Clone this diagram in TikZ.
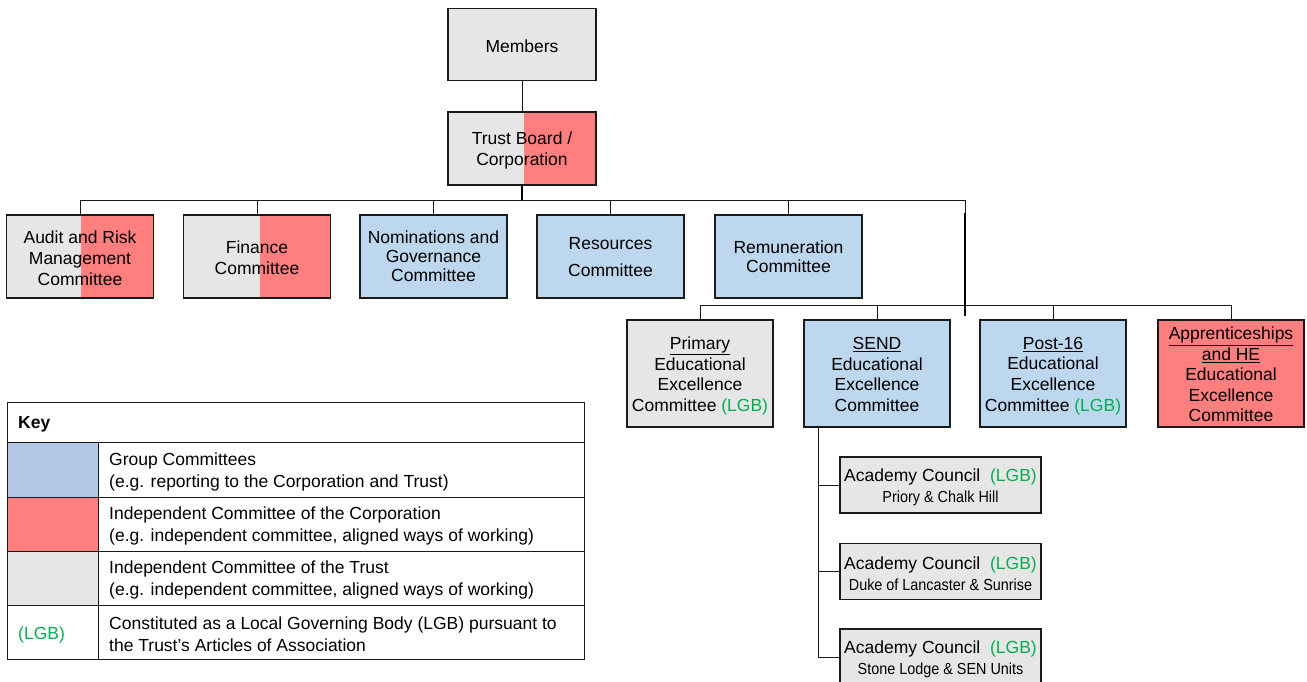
\documentclass[tikz,border=0pt]{standalone}
\usepackage{fontspec}
\setmainfont{Liberation Sans}
\newfontfamily\narrowfont[FakeStretch=0.9]{Liberation Sans}
\definecolor{boxgray}{HTML}{E6E6E6}
\definecolor{boxred}{HTML}{FF7F7F}
\definecolor{boxblue}{HTML}{BDD7EE}
\definecolor{keyblue}{HTML}{B4C7E7}
\definecolor{lgb}{HTML}{00B050}
\definecolor{edge}{HTML}{1A1A1A}
\newcommand{\lgbtag}{\textcolor{lgb}{(LGB)}}
\newcommand{\smalltxt}{\narrowfont\fontsize{16}{19}\selectfont}
\begin{document}
\begin{tikzpicture}[x=1pt,y=-1pt,
  base/.style={draw=edge,line width=1.2pt,inner sep=0pt},
  graybox/.style={base,fill=boxgray},
  bluebox/.style={base,fill=boxblue},
  redbox/.style={base,fill=boxred},
  halfbox/.style={base,fill=boxgray,path picture={
     \fill[boxred] ([xshift=#1]path picture bounding box.north) rectangle (path picture bounding box.south east);}},
  halfbox/.default=0pt,
  topbox/.style={minimum width=147pt,minimum height=83pt},
  rowbox/.style={minimum width=146pt,minimum height=107pt},
  acbox/.style={graybox,minimum width=201pt,minimum height=56pt},
  lbl/.style={inner sep=0pt,align=center,font=\fontsize{17.5}{21}\selectfont},
  conn/.style={draw=edge,line width=1pt},
  thickconn/.style={draw=black,line width=2.8pt},
  keyline/.style={draw=edge,line width=0.9pt},
  keytext/.style={inner sep=0pt,anchor=west,align=left,font=\fontsize{17.5}{22}\selectfont}
]
\useasboundingbox (0,0) rectangle (1307,682);

% top
\node[graybox,minimum width=148pt,minimum height=72pt] (members) at (522,44.5) {};
\node[lbl] (membersT) at ([yshift=-2pt]members.center) {Members};
\node[halfbox=2pt,minimum width=148pt,minimum height=73pt] (trust) at (522,148.5) {};
\node[lbl] (trustT) at ([yshift=-2pt]trust.center) {Trust Board /\\Corporation};

% committees row 1
\node[halfbox=1pt,topbox] (audit) at (80,256.5) {};
\node[lbl] (auditT) at ([yshift=-1.5pt]audit.center) {Audit and Risk\\Management\\Committee};
\node[halfbox=3pt,topbox] (finance) at (257,256.5) {};
\node[lbl] (financeT) at ([yshift=-1pt]finance.center) {Finance\\Committee};
\node[bluebox,topbox] (nomin) at (433.5,256.5) {};
\node[lbl,font=\fontsize{17.5}{19}\selectfont] (nominT) at (nomin.center) {Nominations and\\Governance\\Committee};
\node[bluebox,topbox] (resources) at (610.5,256.5) {};
\node[lbl,font=\fontsize{17.5}{27}\selectfont] (resourcesT) at ([yshift=-1pt]resources.center) {Resources\\Committee};
\node[bluebox,topbox] (remun) at (788.5,256.5) {};
\node[lbl,font=\fontsize{17.5}{19}\selectfont] (remunT) at (remun.center) {Remuneration\\Committee};

% committees row 2
\node[graybox,rowbox] (primary) at (700,373.5) {};
\node[lbl,font=\fontsize{17.5}{20.7}\selectfont] (primaryT) at ([yshift=-2.5pt]primary.center) {\underline{Primary}\\Educational\\Excellence\\Committee \lgbtag};
\node[bluebox,rowbox] (send) at (877,373.5) {};
\node[lbl,font=\fontsize{17.5}{20.7}\selectfont] (sendT) at ([yshift=-1pt]send.center) {\underline{SEND}\\Educational\\Excellence\\Committee};
\node[bluebox,rowbox] (post) at (1053,373.5) {};
\node[lbl,font=\fontsize{17.5}{20.7}\selectfont] (postT) at ([yshift=-2.5pt]post.center) {\underline{Post-16}\\Educational\\Excellence\\Committee \lgbtag};
\node[redbox,rowbox] (appr) at (1231,373.5) {};
\node[lbl,font=\fontsize{17.5}{20.5}\selectfont] (apprT) at ([yshift=-1pt]appr.center) {\underline{Apprenticeships}\\\underline{and HE}\\Educational\\Excellence\\Committee};

% academy councils
\node[acbox] (ac1) at (940.5,485) {};
\node[lbl] (ac1T) at ([yshift=-2.5pt]ac1.center) {Academy Council~~\lgbtag\\{\smalltxt Priory \& Chalk Hill}};
\node[acbox] (ac2) at (940.5,571.5) {};
\node[lbl] (ac2T) at ([yshift=-2.5pt]ac2.center) {Academy Council~~\lgbtag\\{\smalltxt Duke of Lancaster \& Sunrise}};
\node[acbox] (ac3) at (940.5,657) {};
\node[lbl] (ac3T) at ([yshift=-2.5pt]ac3.center) {Academy Council~~\lgbtag\\{\smalltxt Stone Lodge \& SEN Units}};

% connectors
\coordinate (busT) at (522,200);
\coordinate (busR) at (965,200);
\coordinate (thickA) at (965,213);
\coordinate (thickB) at (965,316);
\coordinate (bus2) at (700,305);
\coordinate (sendL) at (818,427);

\draw[conn] (members.south) -- (trust.north);
\draw[conn] (audit.north) |- (busR);
\draw[conn] (finance.north) -- (finance.north |- busT);
\draw[conn] (nomin.north) -- (nomin.north |- busT);
\draw[conn] (resources.north) -- (resources.north |- busT);
\draw[conn] (remun.north) -- (remun.north |- busT);
\draw[thickconn] (trust.south) -- (busT);
\draw[conn] (busR) -- (thickA);
\draw[thickconn] (thickA) -- (thickB);
\draw[conn] (primary.north) |- (appr.north |- bus2) -- (appr.north);
\draw[conn] (send.north) -- (send.north |- bus2);
\draw[conn] (post.north) -- (post.north |- bus2);
\draw[conn] (sendL) |- (ac3.west);
\draw[conn] (sendL |- ac1.west) -- (ac1.west);
\draw[conn] (sendL |- ac2.west) -- (ac2.west);

% key
\fill[keyblue] (7,442) rectangle (98,497);
\fill[boxred] (7,497) rectangle (98,551);
\fill[boxgray] (7,551) rectangle (98,605);
\draw[keyline] (7,402) rectangle (584,659);
\draw[keyline] (7,442) -- (584,442);
\draw[keyline] (7,497) -- (584,497);
\draw[keyline] (7,551) -- (584,551);
\draw[keyline] (7,605) -- (584,605);
\draw[keyline] (98,442) -- (98,659);
\node[keytext,font=\bfseries\fontsize{17.5}{21}\selectfont] (keyhead) at (18,424) {Key};
\node[keytext] (k1) at (109,472) {Group Committees\\(e.g. reporting to the Corporation and Trust)};
\node[keytext] (k2) at (109,526) {Independent Committee of the Corporation\\(e.g. independent committee, aligned ways of working)};
\node[keytext] (k3) at (109,580) {Independent Committee of the Trust\\(e.g. independent committee, aligned ways of working)};
\node[keytext] (k4l) at (18,635) {\lgbtag};
\node[keytext] (k4) at (109,634) {Constituted as a Local Governing Body (LGB) pursuant to\\the Trust’s Articles of Association};
\end{tikzpicture}
\end{document}
